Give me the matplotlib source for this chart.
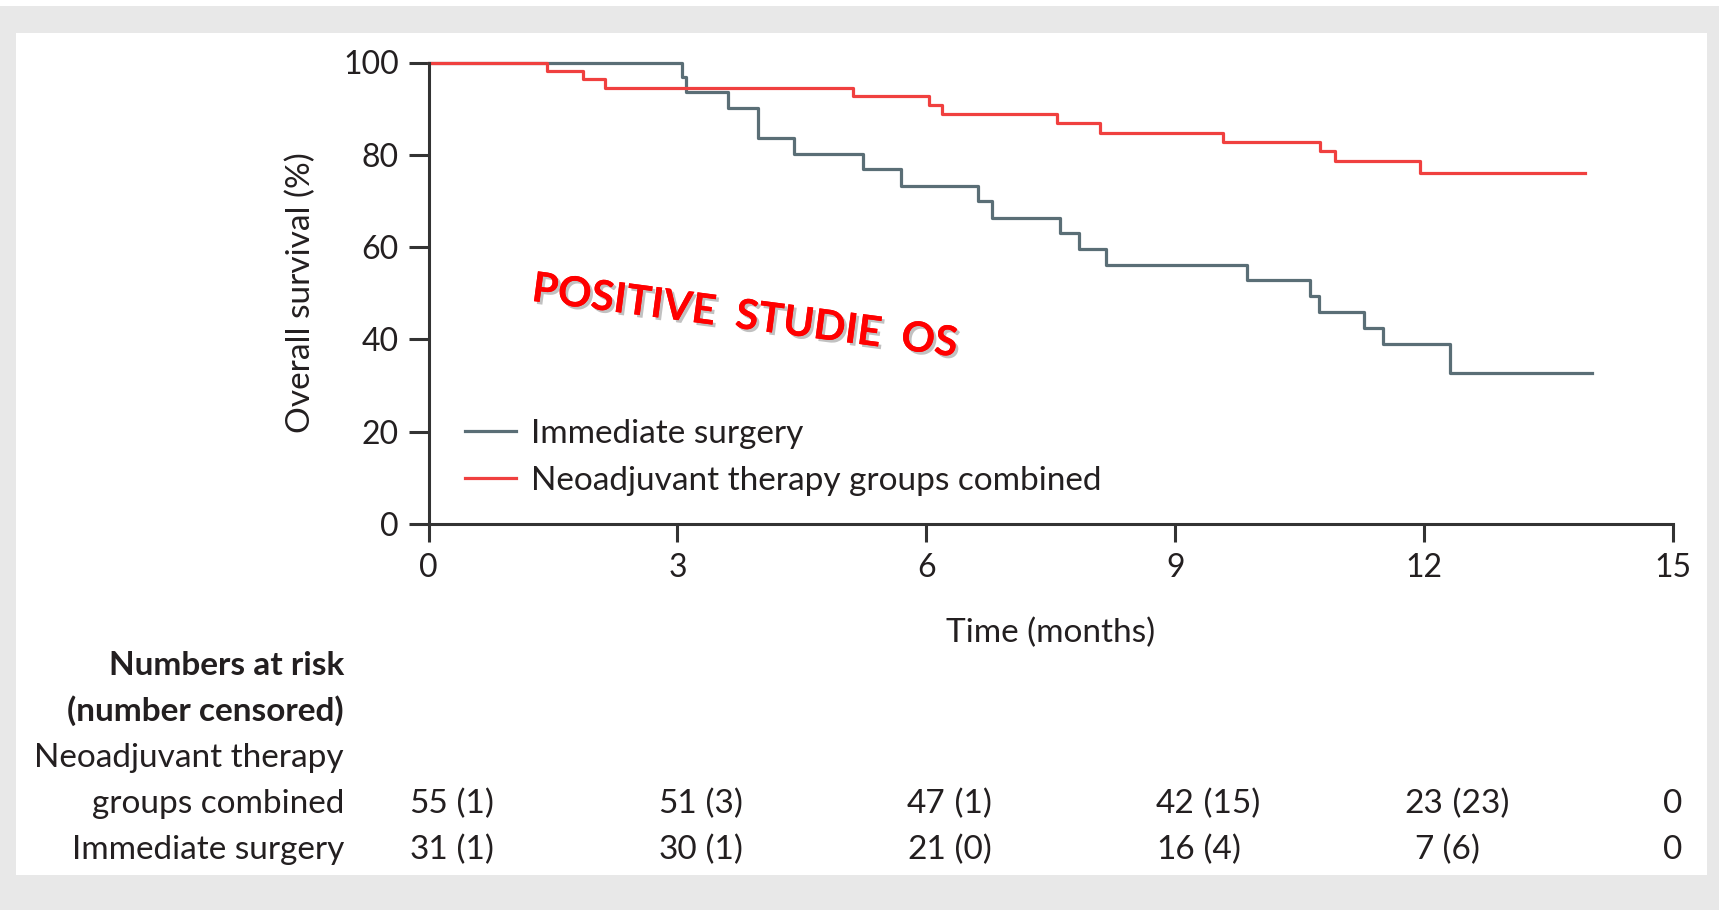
import matplotlib.pyplot as plt
import matplotlib.patheffects as pe
from matplotlib.patches import Rectangle
from matplotlib import transforms

plt.rcParams['font.family'] = ['Lato', 'DejaVu Sans']

# Kaplan-Meier steps (months, % alive)
surg_t = [0, 3.05, 3.10, 3.61, 3.97, 4.40, 5.24, 5.70, 6.62, 6.79, 7.61, 7.84,
          8.17, 9.87, 10.63, 10.73, 11.28, 11.51, 12.31, 14.02]
surg_s = [100, 96.9, 93.5, 90.2, 83.6, 80.2, 76.9, 73.3, 69.9, 66.4, 63.0, 59.6,
          56.1, 52.8, 49.3, 45.9, 42.5, 39.0, 32.8, 32.8]
neo_t = [0, 1.43, 1.86, 2.13, 5.12, 6.03, 6.19, 7.58, 8.09, 9.58, 10.75, 10.92,
         11.95, 13.94]
neo_s = [100, 98.2, 96.4, 94.5, 92.8, 90.8, 88.8, 86.8, 84.8, 82.8, 80.8, 78.7,
         76.1, 76.1]

# numbers at risk table
risk_times = [0, 3, 6, 9, 12, 15]
neo_risk = [55, 51, 47, 42, 23, 0]
neo_cens = [1, 3, 1, 15, 23, None]
surg_risk = [31, 30, 21, 16, 7, 0]
surg_cens = [1, 1, 0, 4, 6, None]

GREY = '#5a6e76'
RED = '#f0403f'
INK = '#231f20'
FS = 24
TFS = 23

fig = plt.figure(figsize=(17.19, 9.10), dpi=100, facecolor='#e8e8e8')
W, H = 1719, 910
fig.patches.append(Rectangle((16 / W, 1 - 875 / H), (1707 - 16) / W, (875 - 33) / H,
                             transform=fig.transFigure, facecolor='white',
                             edgecolor='none', zorder=-5))
fig.patches.append(Rectangle((0, 1 - 6 / H), 1, 6 / H, transform=fig.transFigure,
                             facecolor='white', edgecolor='none', zorder=-5))

ax = fig.add_axes([428.6 / W, 1 - 524 / H, 1244.4 / W, 461.5 / H])
ax.patch.set_alpha(0)

ax.step(surg_t, surg_s, where='post', color=GREY, lw=2.3, clip_on=False,
        label='Immediate surgery')
ax.step(neo_t, neo_s, where='post', color=RED, lw=2.3, clip_on=False,
        label='Neoadjuvant therapy groups combined')

ax.set_xlim(0, 15)
ax.set_ylim(0, 100)
ax.set_xticks(risk_times)
ax.set_yticks([0, 20, 40, 60, 80, 100])
for s in ['top', 'right']:
    ax.spines[s].set_visible(False)
for s in ['left', 'bottom']:
    ax.spines[s].set_linewidth(2.2)
    ax.spines[s].set_color('#333333')
ax.tick_params(axis='y', length=14.5, width=2.2, color='#333333', pad=7,
               labelsize=TFS, labelcolor=INK)
ax.tick_params(axis='x', length=13, width=2.2, color='#333333', pad=8,
               labelsize=TFS, labelcolor=INK)

fig.text(301 / W, 1 - 293 / H, 'Overall survival (%)', rotation=90, ha='center',
         va='center', fontsize=FS, color=INK)
fig.text(1050.8 / W, 1 - 642 / H, 'Time (months)', ha='center', va='baseline',
         fontsize=FS, color=INK)

ax.legend(loc='upper left', bbox_to_anchor=(0.029, 0.228), frameon=False,
          fontsize=FS, borderpad=0, borderaxespad=0, handlelength=1.55,
          handletextpad=0.45, labelspacing=0.52, labelcolor=INK)

ax.text(3.81, 44.9, 'POSITIVE  STUDIE  OS', color='#ff0000', fontsize=30,
        fontweight='bold', rotation=-7.5, ha='center', va='center',
        path_effects=[pe.withSimplePatchShadow(offset=(2, -2),
                                               shadow_rgbFace='#777777',
                                               alpha=0.45), pe.Normal()])

# risk table below the axes
row_base = [675, 721, 767, 813, 859]
labels = [('Numbers at risk', 'bold'), ('(number censored)', 'bold'),
          ('Neoadjuvant therapy', 'normal'), ('groups combined', 'normal'),
          ('Immediate surgery', 'normal')]
for (txt, wt), yb in zip(labels, row_base):
    fig.text(344 / W, 1 - yb / H, txt, ha='right', va='baseline', fontsize=FS,
             fontweight=wt, color=INK)

trans = transforms.blended_transform_factory(ax.transData, fig.transFigure)
for risk, cens, yb in [(neo_risk, neo_cens, row_base[3]),
                       (surg_risk, surg_cens, row_base[4])]:
    for x, n, c in zip(risk_times, risk, cens):
        t = ax.text(x, 1 - yb / H, str(n), transform=trans, ha='center',
                    va='baseline', fontsize=FS, color=INK, clip_on=False)
        if c is not None:
            ax.annotate(f' ({c})', xy=(1, 0), xycoords=t, ha='left', va='bottom',
                        fontsize=FS, color=INK, annotation_clip=False)

fig.savefig('out.png', dpi=100, facecolor=fig.get_facecolor())
